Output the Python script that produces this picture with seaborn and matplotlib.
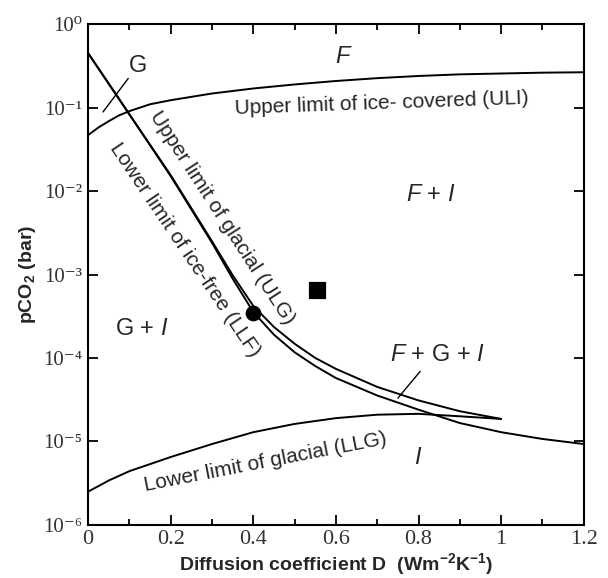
import numpy as np
import pandas as pd
import matplotlib
matplotlib.use("Agg")
import matplotlib.pyplot as plt
import matplotlib.ticker as mticker
import seaborn as sns

# Curve data (D in W m-2 K-1, pCO2 in bar)
uli_d = [0, 0.025, 0.05, 0.075, 0.1, 0.15, 0.2, 0.3, 0.4, 0.5, 0.6, 0.7, 0.8, 0.9, 1.0, 1.1, 1.2]
uli_p = [0.047, 0.058, 0.069, 0.081, 0.091, 0.110, 0.123, 0.148, 0.170, 0.190, 0.209,
         0.226, 0.240, 0.251, 0.257, 0.263, 0.266]

ulg_d = [0, 0.1, 0.2, 0.3, 0.35, 0.4, 0.45, 0.5, 0.55, 0.6, 0.7, 0.8, 0.9, 1.0]
ulg_p = [0.45, 0.083, 0.0155, 2.5e-3, 9.8e-4, 4.2e-4, 2.35e-4, 1.48e-4, 1.0e-4, 7.4e-5,
         4.5e-5, 3.1e-5, 2.3e-5, 1.86e-5]

llf_d = [0, 0.1, 0.2, 0.3, 0.35, 0.4, 0.45, 0.5, 0.55, 0.6, 0.7, 0.8, 0.9, 1.0, 1.1, 1.2]
llf_p = [0.45, 0.083, 0.0151, 2.4e-3, 8.9e-4, 3.55e-4, 1.9e-4, 1.17e-4, 8.0e-5, 5.75e-5,
         3.55e-5, 2.4e-5, 1.66e-5, 1.29e-5, 1.07e-5, 9.3e-6]

llg_d = [0, 0.05, 0.1, 0.2, 0.3, 0.4, 0.5, 0.6, 0.7, 0.8, 0.9, 1.0]
llg_p = [2.5e-6, 3.4e-6, 4.4e-6, 6.5e-6, 9.3e-6, 1.29e-5, 1.62e-5, 1.9e-5, 2.09e-5,
         2.14e-5, 2.0e-5, 1.86e-5]

dot_d, dot_p = [0.4], [3.5e-4]
square_d, square_p = [0.555], [6.5e-4]

ytick_vals = [1e-6, 1e-5, 1e-4, 1e-3, 1e-2, 1e-1, 1e0]
ytick_labels = ["10⁻⁶", "10⁻⁵", "10⁻⁴", "10⁻³", "10⁻²", "10⁻¹", "10⁰"]
xtick_vals = [0, 0.2, 0.4, 0.6, 0.8, 1.0, 1.2]
xtick_labels = ["0", "0.2", "0.4", "0.6", "0.8", "1", "1.2"]

sns.set_style("ticks")
plt.rcParams["font.family"] = ["Liberation Sans", "DejaVu Sans"]
plt.rcParams["mathtext.fontset"] = "custom"
plt.rcParams["mathtext.rm"] = "Liberation Sans"
plt.rcParams["mathtext.it"] = "Liberation Sans:italic"
plt.rcParams["mathtext.bf"] = "Liberation Sans:bold"

fig = plt.figure(figsize=(6.08, 5.78), dpi=100)
ax = fig.add_axes([0.145, 0.092, 0.815, 0.866])
ax.set_yscale("log")

curves = [(uli_d, uli_p), (ulg_d, ulg_p), (llf_d, llf_p), (llg_d, llg_p)]
for xs, ys in curves:
    sns.lineplot(x=xs, y=ys, ax=ax, color="black", linewidth=1.4, sort=False, estimator=None)

sns.scatterplot(x=dot_d, y=dot_p, ax=ax, color="black", marker="o", s=110, edgecolor="black", zorder=5)
sns.scatterplot(x=square_d, y=square_p, ax=ax, color="black", marker="s", s=120, edgecolor="black", zorder=5)

ax.set_xlim(0, 1.2)
ax.set_ylim(1e-6, 1)
ax.set_xticks(xtick_vals)
ax.set_xticklabels(xtick_labels, family=["Liberation Serif", "DejaVu Serif"], fontsize=16, color="#333333")
ax.xaxis.set_minor_locator(mticker.MultipleLocator(0.1))
ax.set_yticks(ytick_vals)
ax.set_yticklabels(ytick_labels, family=["Liberation Serif", "DejaVu Serif"], fontsize=15, color="#333333")
ax.yaxis.set_minor_locator(mticker.NullLocator())
ax.tick_params(which="both", direction="in", top=True, right=True, width=1.3, color="black")
ax.tick_params(which="major", length=7, pad=4)
ax.tick_params(which="minor", length=4)
for sp in ax.spines.values():
    sp.set_linewidth(1.5)
    sp.set_color("black")

ax.set_xlabel("Diffusion coefficient D  (Wm$^{\\mathbf{-2}}$K$^{\\mathbf{-1}}$)", fontsize=14,
              fontweight="bold", labelpad=1)
ax.set_ylabel("pCO$_\\mathbf{2}$ (bar)", fontsize=14, fontweight="bold", labelpad=4)

# region and curve labels
lab = 15
reg = 17
ax.text(0.62, 0.40, "$\\mathit{F}$", fontsize=reg, ha="center", va="center")
ax.text(0.12, 0.32, "G", fontsize=reg, ha="center", va="center")
ax.text(0.71, 0.112, "Upper limit of ice- covered (ULI)", fontsize=lab, ha="center", va="center", rotation=2)
ax.text(0.325, 4.8e-3, "Upper limit of glacial (ULG)", fontsize=lab, ha="center", va="center", rotation=-57)
ax.text(0.235, 2.0e-3, "Lower limit of ice-free (LLF)", fontsize=lab, ha="center", va="center", rotation=-56)
ax.text(0.83, 9.0e-3, "$\\mathit{F}$ + $\\mathit{I}$", fontsize=reg, ha="center", va="center")
ax.text(0.13, 2.2e-4, "G + $\\mathit{I}$", fontsize=reg, ha="center", va="center")
ax.text(0.845, 1.1e-4, "$\\mathit{F}$ + G + $\\mathit{I}$", fontsize=reg, ha="center", va="center")
ax.text(0.43, 5.6e-6, "Lower limit of glacial (LLG)", fontsize=lab, ha="center", va="center", rotation=11)
ax.text(0.80, 6.3e-6, "$\\mathit{I}$", fontsize=reg, ha="center", va="center")

# pointer lines for G and F + G + I
ax.plot([0.097, 0.036], [0.224, 0.089], color="black", linewidth=1.0)
ax.plot([0.804, 0.75], [6.9e-5, 3.3e-5], color="black", linewidth=1.0)

fig.savefig("out.png", dpi=100)
